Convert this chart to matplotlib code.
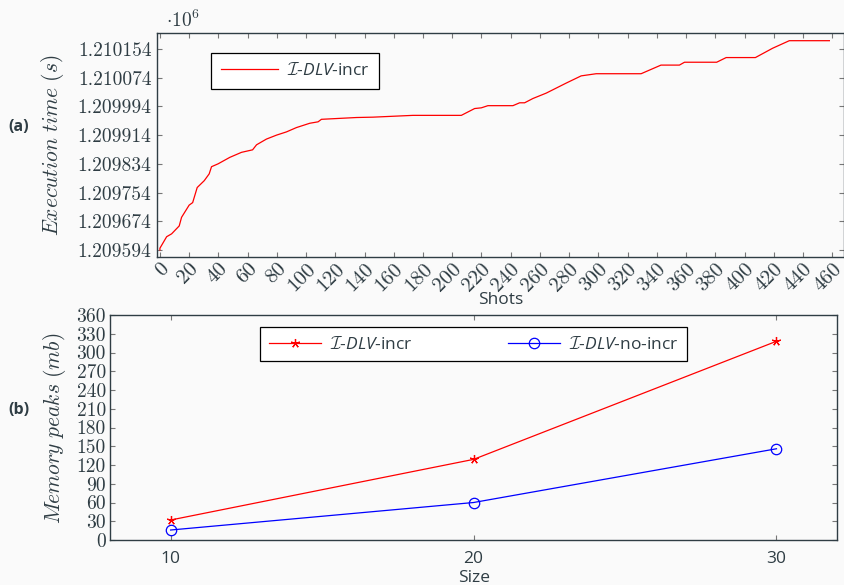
import matplotlib
matplotlib.use("Agg")
import matplotlib.pyplot as plt

# --- data -----------------------------------------------------------------
shots = [0, 0, 4.6, 8.0, 13.2, 14.8, 20.0, 22.4, 25.5, 30.3, 33.7, 35.3, 39.8,
         47.8, 55.8, 63.4, 66.1, 72.9, 79.8, 86.6, 93.4, 102.5, 108.2, 110.5,
         134.5, 145.8, 173.1, 206.2, 215.3, 219.9, 224.4, 241.5, 246.1, 249.5,
         255.2, 264.3, 278.0, 288.2, 298.5, 329.2, 342.8, 355.4, 358.9, 380.9,
         387.4, 407.4, 419.2, 430.6, 458.0]
exec_time = [1209594, 1209599, 1209631, 1209639, 1209661, 1209685, 1209719,
             1209726, 1209768, 1209787, 1209806, 1209826, 1209834, 1209852,
             1209866, 1209873, 1209887, 1209903, 1209914, 1209923, 1209935,
             1209947, 1209951, 1209958, 1209963, 1209964, 1209969, 1209969,
             1209988, 1209990, 1209996, 1209996, 1210004, 1210004, 1210016,
             1210031, 1210059, 1210079, 1210085, 1210085, 1210109, 1210109,
             1210117, 1210117, 1210130, 1210130, 1210156, 1210177, 1210177]
time_ticks = [1209594, 1209674, 1209754, 1209834, 1209914, 1209994,
              1210074, 1210154]
shot_ticks = list(range(0, 461, 20))

sizes = [10, 20, 30]
mem_incr = [32, 129, 318]
mem_noincr = [16, 60, 146]
mem_ticks = list(range(0, 361, 30))

# --- style ----------------------------------------------------------------
BG = "#fafafa"
INK = "#2f3d44"
plt.rcParams.update({
    "mathtext.fontset": "custom",
    "mathtext.rm": "cmr10",
    "mathtext.it": "cmmi10",
    "mathtext.cal": "cmsy10",
    "mathtext.sf": "Open Sans:italic",
    "font.family": ["Open Sans", "DejaVu Sans"],
    "text.color": INK,
    "axes.edgecolor": INK,
    "axes.linewidth": 1.0,
    "xtick.color": "#777777",
    "ytick.color": "#777777",
    "xtick.labelcolor": INK,
    "ytick.labelcolor": INK,
    "xtick.direction": "in",
    "ytick.direction": "in",
    "xtick.major.size": 3.5,
    "ytick.major.size": 3.5,
})

LABEL = r"$\mathcal{I}$-$\mathsf{DLV}$-"

fig = plt.figure(figsize=(8.45, 5.85), dpi=100, facecolor=BG)

# --- (a) execution time ----------------------------------------------------
ax1 = fig.add_axes([0.1858, 0.5607, 0.813, 0.383], facecolor=BG)
ax1.plot(shots, exec_time, color="red", lw=0.9, label=LABEL + "incr")
ax1.set_xlim(-2, 468)
ax1.set_ylim(1209574.5, 1210198.6)
ax1.set_xticks(shot_ticks)
ax1.set_xticklabels([str(s) for s in shot_ticks], rotation=45,
                    ha="right", va="top", rotation_mode="anchor",
                    fontfamily="cmr10", fontsize=15)
ax1.set_yticks(time_ticks)
ax1.set_yticklabels([f"{t / 1e6:.6f}" for t in time_ticks],
                    fontfamily="cmr10", fontsize=14)
ax1.tick_params(top=True, right=True, pad=4)
ax1.tick_params(axis="x", pad=2)
leg1 = ax1.legend(loc="upper left", bbox_to_anchor=(0.066, 0.95),
                  fontsize=12.5, frameon=True, fancybox=False,
                  edgecolor="black", framealpha=1, handlelength=3.3,
                  borderpad=0.55, handletextpad=0.5)
leg1.get_frame().set_linewidth(0.9)
fig.text(0.196, 0.965, r"$\cdot10^{6}$", fontsize=14, va="center")
fig.text(0.062, 0.752, r"$Execution\ time\ (s)$", rotation=90,
         fontsize=15.5, ha="center", va="center")
fig.text(0.592, 0.488, "Shots", fontsize=12.5, ha="center", va="center")
fig.text(0.022, 0.783, "(a)", fontsize=11.5, fontweight="bold",
         ha="center", va="center")

# --- (b) memory peaks ------------------------------------------------------
ax2 = fig.add_axes([0.1302, 0.0769, 0.8604, 0.3846], facecolor=BG)
ax2.plot(sizes, mem_incr, color="red", lw=0.9, marker=(5, 2, 0),
         markersize=6.5, markeredgewidth=0.9, label=LABEL + "incr")
ax2.plot(sizes, mem_noincr, color="blue", lw=0.9, marker="o",
         markersize=7.5, fillstyle="none", markeredgewidth=0.9,
         label=LABEL + "no-incr")
ax2.set_xlim(8, 32)
ax2.set_ylim(0, 360)
ax2.set_xticks(sizes)
ax2.set_xticklabels([str(s) for s in sizes], fontsize=12.5)
ax2.set_yticks(mem_ticks)
ax2.set_yticklabels([str(m) for m in mem_ticks], fontfamily="cmr10",
                    fontsize=14)
ax2.tick_params(top=True, right=True)
ax2.tick_params(axis="x", pad=8)
ax2.tick_params(axis="y", pad=3)
leg2 = ax2.legend(loc="upper center", bbox_to_anchor=(0.5, 0.985), ncol=2,
                  fontsize=12.5, frameon=True, fancybox=False,
                  edgecolor="black", framealpha=1, handlelength=3.0,
                  handletextpad=0.5, columnspacing=5.5, borderpad=0.5)
leg2.get_frame().set_linewidth(0.9)
fig.text(0.064, 0.268, r"$Memory\ peaks\ (mb)$", rotation=90,
         fontsize=15.5, ha="center", va="center")
fig.text(0.561, 0.012, "Size", fontsize=12.5, ha="center", va="center")
fig.text(0.022, 0.299, "(b)", fontsize=11.5, fontweight="bold",
         ha="center", va="center")

fig.savefig("out.png", dpi=100, facecolor=BG)
